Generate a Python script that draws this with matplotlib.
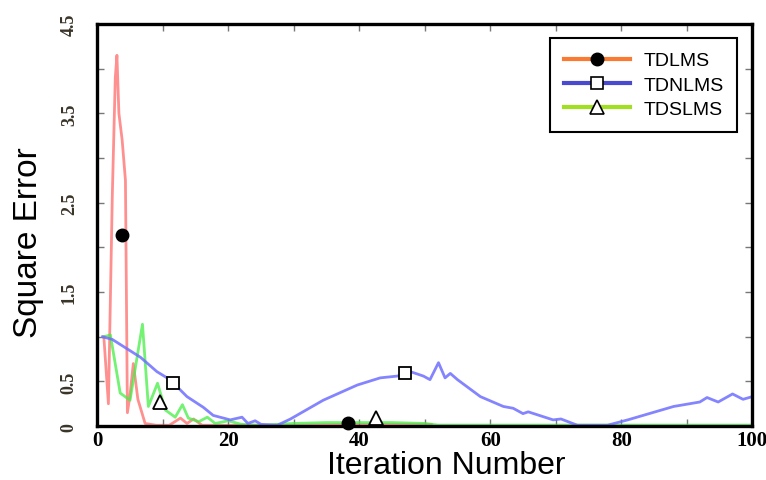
import matplotlib
matplotlib.use('Agg')
import matplotlib.pyplot as plt
from matplotlib.lines import Line2D

# values
lms_x = [1, 1.7, 2.3, 2.75, 3.0, 3.3, 3.8, 4.3, 4.6, 5.0, 5.5, 6.2, 7.3, 9, 11,
         12.7, 13.7, 14.7, 16, 18, 22, 26, 30, 34, 38, 42, 46, 51]
lms_y = [1.0, 0.25, 2.6, 3.9, 4.15, 3.5, 3.2, 2.75, 0.15, 0.35, 0.7, 0.3, 0.03, 0.01, 0.01,
         0.09, 0.03, 0.08, 0.01, 0.01, 0.01, 0.005, 0.01, 0.015, 0.02, 0.02, 0.02, 0.02]

slms_x = [1, 2, 3.5, 5, 6.9, 7.8, 9.2, 10.4, 11.9, 13, 13.9, 15.5, 16.8, 18, 20,
          22, 25, 30, 35, 40, 45, 50, 52, 60, 70, 80, 90, 100]
slms_y = [1.0, 1.02, 0.37, 0.29, 1.14, 0.22, 0.48, 0.18, 0.1, 0.24, 0.09, 0.05, 0.1, 0.03, 0.06,
          0.02, 0.01, 0.03, 0.04, 0.04, 0.04, 0.03, 0.012, 0.012, 0.012, 0.012, 0.012, 0.012]

nlms_x = [0.8, 2.3, 6.6, 9.1, 11.1, 13.7, 16.2, 17.7, 20.3, 22.1, 23, 24.1, 25, 27.5,
          29.5, 34.5, 39.7, 43.2, 45.8, 47.8, 49.8, 50.8, 52.1, 53.1, 53.9, 55, 58.5,
          62, 63.5, 65, 65.8, 69.6, 70.8, 73.3, 77.9, 81, 88, 92, 93.1, 94.8, 97, 98.6, 100]
nlms_y = [1.0, 0.97, 0.77, 0.61, 0.52, 0.33, 0.21, 0.12, 0.07, 0.1, 0.03, 0.06, 0.02, 0.01,
          0.08, 0.29, 0.46, 0.54, 0.56, 0.61, 0.56, 0.52, 0.71, 0.54, 0.59, 0.52, 0.33,
          0.22, 0.2, 0.14, 0.16, 0.07, 0.08, 0.01, 0.01, 0.07, 0.22, 0.27, 0.32, 0.27, 0.36, 0.3, 0.33]

# sparse markers sitting near the curves
lms_mx, lms_my = [3.8, 38.3], [2.14, 0.04]
nlms_mx, nlms_my = [11.6, 47.0], [0.48, 0.6]
slms_mx, slms_my = [9.6, 42.6], [0.27, 0.09]

names = ['TDLMS', 'TDNLMS', 'TDSLMS']
x_labels = ['0', '', '20', '', '40', '', '60', '', '80', '', '100']
y_labels = ['0', '0.5', '', '1.5', '', '2.5', '', '3.5', '', '4.5']

fig = plt.figure(figsize=(7.66, 4.81), dpi=100)
ax = fig.add_axes([0.127, 0.112, 0.855, 0.836])

ax.plot(lms_x, lms_y, color='#ff5555', lw=2.0, alpha=0.65)
ax.plot(slms_x, slms_y, color='#44ee44', lw=2.0, alpha=0.75)
ax.plot(nlms_x, nlms_y, color='#6f6fff', lw=2.0, alpha=0.85)

ax.plot(lms_mx, lms_my, 'o', color='black', ms=9, ls='none', zorder=5, clip_on=False)
ax.plot(nlms_mx, nlms_my, 's', mfc='white', mec='black', mew=1.3, ms=9, ls='none', zorder=5)
ax.plot(slms_mx, slms_my, '^', mfc='white', mec='black', mew=1.3, ms=10, ls='none', zorder=5)

ax.set_xlim(0, 100)
ax.set_ylim(0, 4.5)
ax.set_xticks(range(0, 101, 10))
ax.set_xticklabels(x_labels)
ax.set_yticks([i * 0.5 for i in range(10)])
ax.set_yticklabels(y_labels)

ax.tick_params(axis='both', direction='in', length=5, width=1, color='#777777',
               top=True, right=True)
ax.tick_params(axis='x', pad=3)
ax.tick_params(axis='y', pad=14)
for lab in ax.get_xticklabels():
    lab.set_fontfamily('Liberation Serif')
    lab.set_fontweight('bold')
    lab.set_fontsize(15)
for lab in ax.get_yticklabels():
    lab.set_fontfamily('Liberation Serif')
    lab.set_fontweight('bold')
    lab.set_fontsize(13)
    lab.set_rotation(90)
    lab.set_va('center')
    lab.set_color('#3a3328')

for sp in ax.spines.values():
    sp.set_linewidth(2.4)
    sp.set_color('black')

ax.set_xlabel('Iteration Number', fontsize=23, family='Liberation Sans', va='center')
ax.xaxis.set_label_coords(0.533, -0.096)
ax.set_ylabel('Square Error', fontsize=24, family='Liberation Sans', va='center')
ax.yaxis.set_label_coords(-0.105, 0.46)

handles = [
    Line2D([], [], color='#f97a30', lw=3, marker='o', ms=9, mfc='black', mec='black'),
    Line2D([], [], color='#4a4acf', lw=3, marker='s', ms=8, mfc='white', mec='black', mew=1.2),
    Line2D([], [], color='#a0e020', lw=3, marker='^', ms=10, mfc='white', mec='black', mew=1.2),
]
leg = ax.legend(handles, names, loc='upper right', bbox_to_anchor=(0.977, 0.965),
                borderaxespad=0, prop={'family': 'Liberation Sans', 'size': 14},
                handlelength=3.4, fancybox=False, framealpha=1, edgecolor='black',
                borderpad=0.7, labelspacing=0.35, handletextpad=0.7)
leg.get_frame().set_linewidth(1.5)

fig.savefig('out.png', dpi=100)
